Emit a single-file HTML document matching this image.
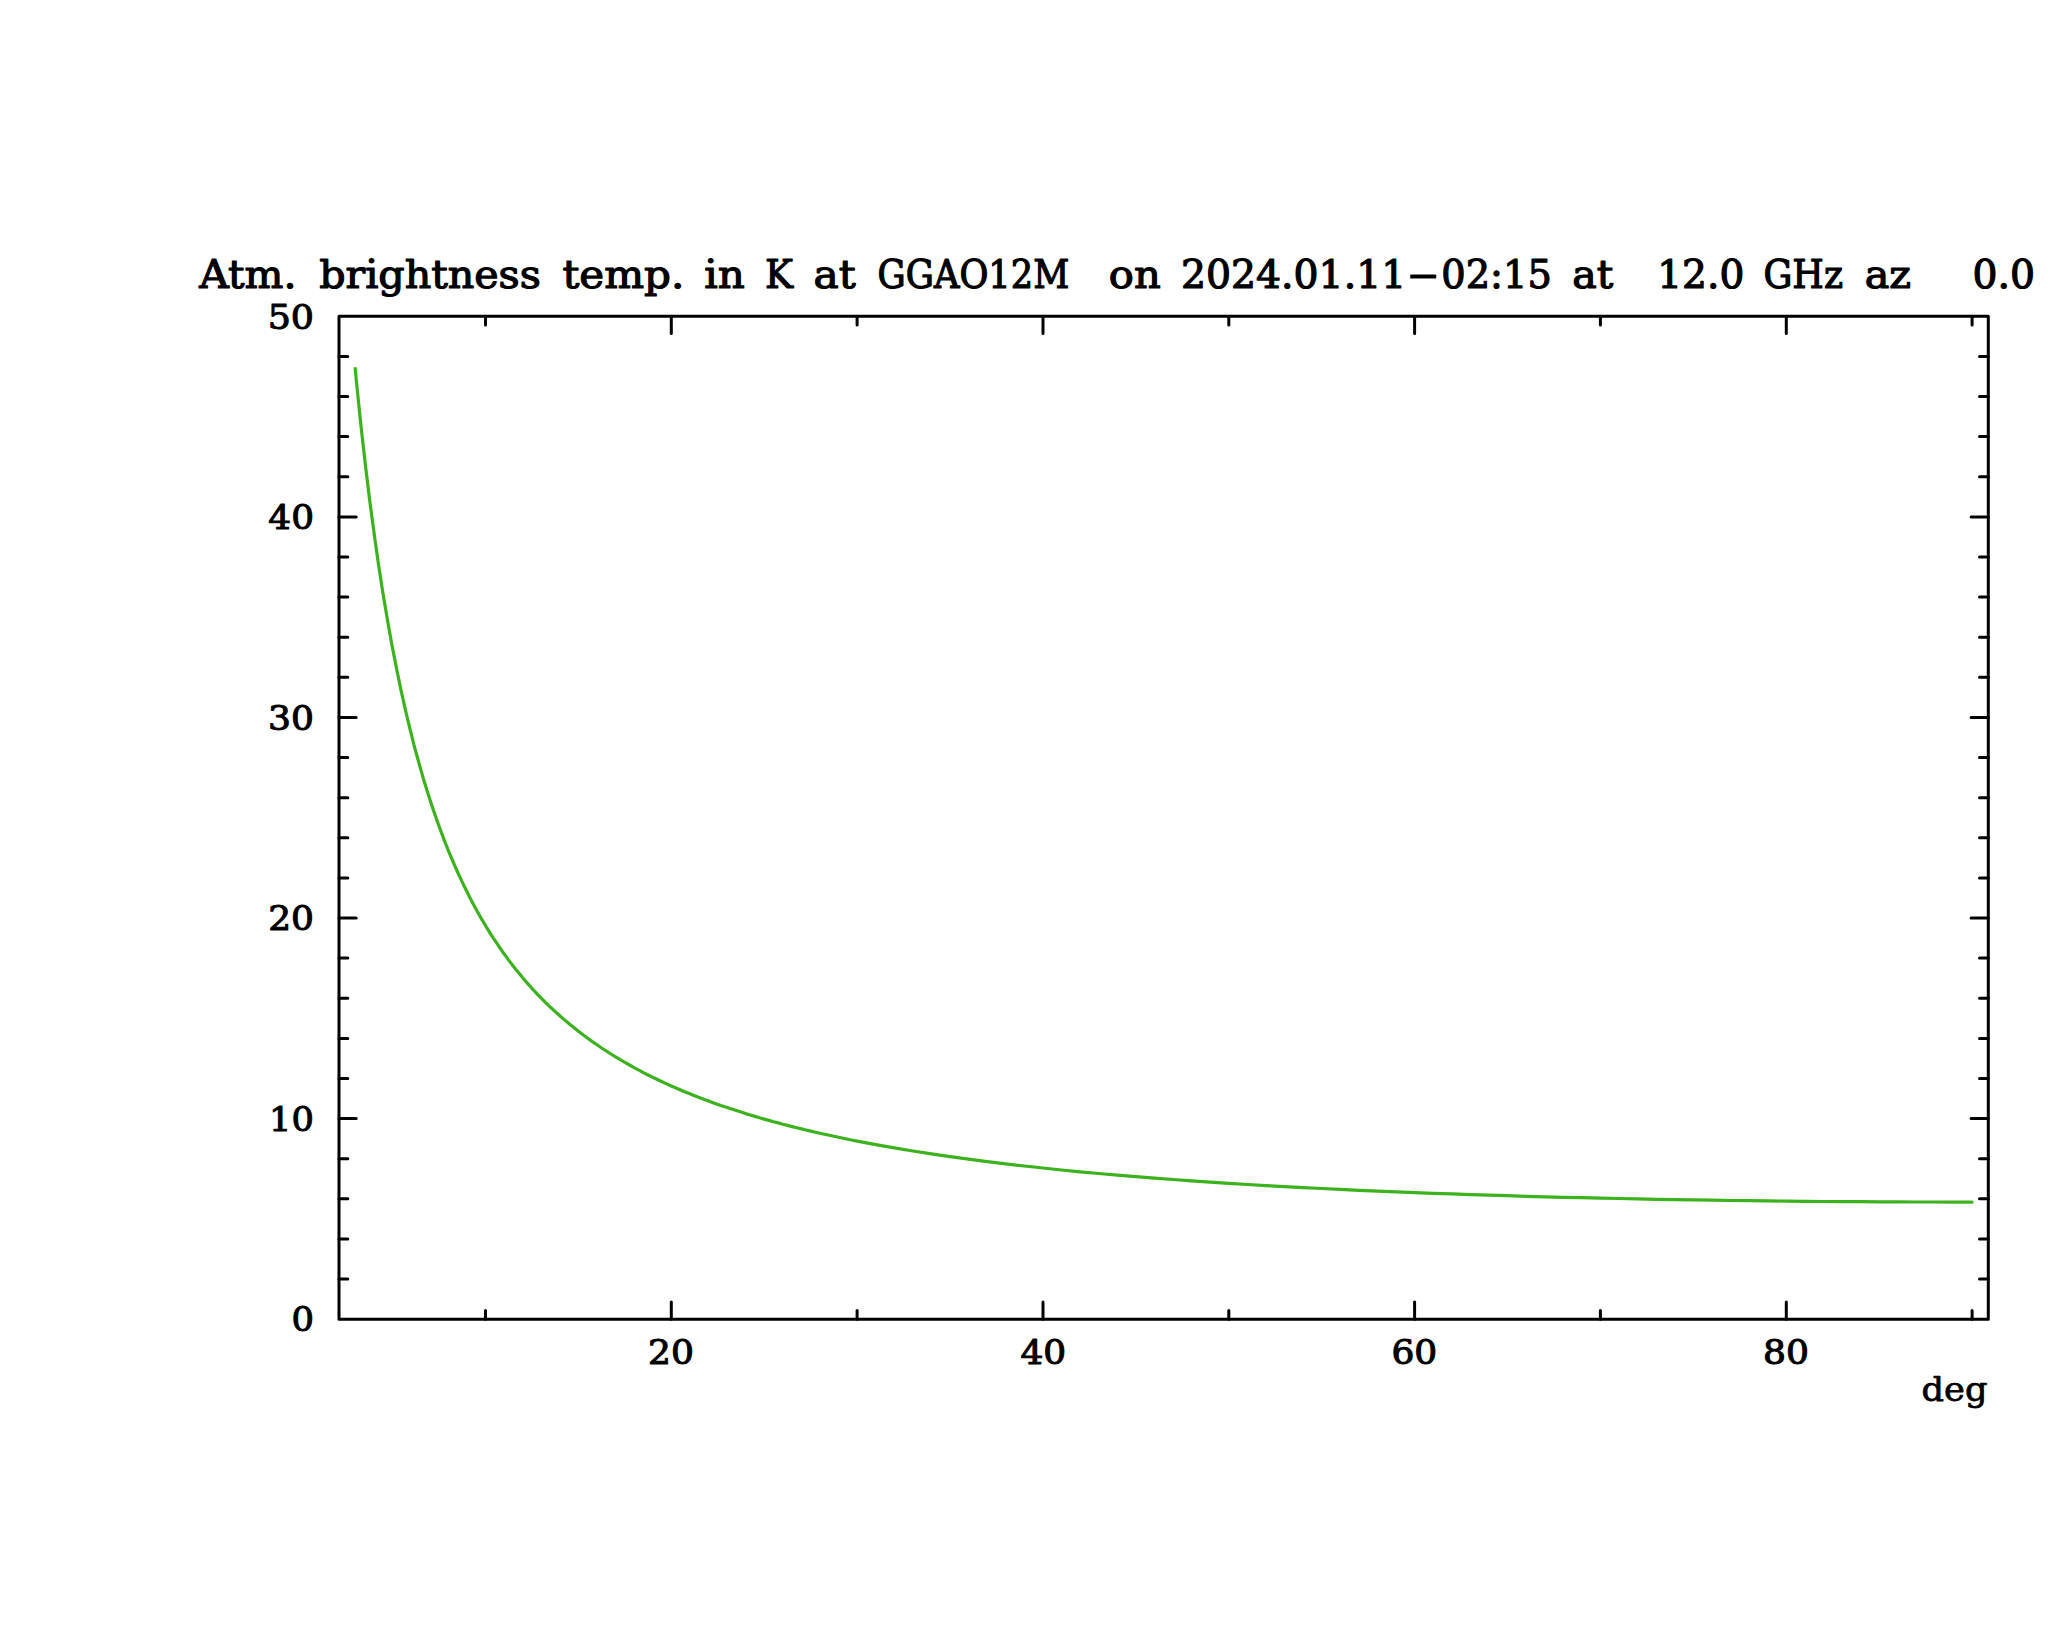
<!DOCTYPE html>
<html lang="en">
<head>
<meta charset="utf-8">
<title>Atm. brightness temp.</title>
<style>
html,body{margin:0;padding:0;background:#fff;}
body{width:2048px;height:1635px;overflow:hidden;}
svg{display:block;}
text{font-family:'DejaVu Serif','Liberation Serif',serif;fill:#000;stroke:#000;stroke-linejoin:round;stroke-linecap:round;}
.t{font-size:39.3px;stroke-width:1.2;}
.n{font-size:34.2px;stroke-width:1.05;}
.l{font-size:33.9px;stroke-width:0.75;}
.ax{stroke:#000;stroke-width:3.0;stroke-linecap:round;stroke-linejoin:round;fill:none;}
.cv{stroke:#3cb21e;stroke-width:3.2;stroke-linecap:round;stroke-linejoin:round;fill:none;}
</style>
</head>
<body>
<svg width="2048" height="1635" viewBox="0 0 2048 1635">
<rect x="0" y="0" width="2048" height="1635" fill="#ffffff"/>
<!-- title -->
<text class="t" y="287.50"><tspan x="199.29" textLength="97.11" lengthAdjust="spacingAndGlyphs">Atm.</tspan> <tspan x="319.15" textLength="221.70" lengthAdjust="spacingAndGlyphs">brightness</tspan> <tspan x="562.43" textLength="122.02" lengthAdjust="spacingAndGlyphs">temp.</tspan> <tspan x="704.32" textLength="40.50" lengthAdjust="spacingAndGlyphs">in</tspan> <tspan x="764.90" textLength="27.98" lengthAdjust="spacingAndGlyphs">K</tspan> <tspan x="813.59" textLength="42.23" lengthAdjust="spacingAndGlyphs">at</tspan> <tspan x="877.54" textLength="191.82" lengthAdjust="spacingAndGlyphs">GGAO12M</tspan> <tspan x="1108.84" textLength="51.90" lengthAdjust="spacingAndGlyphs">on</tspan> <tspan x="1180.94" textLength="225.27" lengthAdjust="spacingAndGlyphs">2024.01.11</tspan> <tspan x="1407.56" y="286.90" textLength="31.42" lengthAdjust="spacingAndGlyphs">-</tspan> <tspan y="287.50" x="1441.35" textLength="110.43" lengthAdjust="spacingAndGlyphs">02:15</tspan> <tspan x="1572.34" textLength="40.99" lengthAdjust="spacingAndGlyphs">at</tspan> <tspan x="1657.14" textLength="87.20" lengthAdjust="spacingAndGlyphs">12.0</tspan> <tspan x="1763.40" textLength="79.60" lengthAdjust="spacingAndGlyphs">GHz</tspan> <tspan x="1864.73" textLength="46.39" lengthAdjust="spacingAndGlyphs">az</tspan> <tspan x="1972.60" textLength="62.44" lengthAdjust="spacingAndGlyphs">0.0</tspan></text>
<!-- frame and ticks -->
<g class="ax">
<rect x="339.0" y="316.3" width="1649.3" height="1002.9"/>
<path d="M485.5 1319.2v-8.8M485.5 316.3v8.8M671.3 1319.2v-17.2M671.3 316.3v17.2M857.1 1319.2v-8.8M857.1 316.3v8.8M1043.0 1319.2v-17.2M1043.0 316.3v17.2M1228.8 1319.2v-8.8M1228.8 316.3v8.8M1414.6 1319.2v-17.2M1414.6 316.3v17.2M1600.4 1319.2v-8.8M1600.4 316.3v8.8M1786.3 1319.2v-17.2M1786.3 316.3v17.2M1972.1 1319.2v-8.8M1972.1 316.3v8.8M339.0 1279.0h8.8M1988.3 1279.0h-8.8M339.0 1238.9h8.8M1988.3 1238.9h-8.8M339.0 1198.8h8.8M1988.3 1198.8h-8.8M339.0 1158.7h8.8M1988.3 1158.7h-8.8M339.0 1118.6h17.2M1988.3 1118.6h-17.2M339.0 1078.5h8.8M1988.3 1078.5h-8.8M339.0 1038.4h8.8M1988.3 1038.4h-8.8M339.0 998.2h8.8M1988.3 998.2h-8.8M339.0 958.1h8.8M1988.3 958.1h-8.8M339.0 918.0h17.2M1988.3 918.0h-17.2M339.0 877.9h8.8M1988.3 877.9h-8.8M339.0 837.8h8.8M1988.3 837.8h-8.8M339.0 797.7h8.8M1988.3 797.7h-8.8M339.0 757.6h8.8M1988.3 757.6h-8.8M339.0 717.4h17.2M1988.3 717.4h-17.2M339.0 677.3h8.8M1988.3 677.3h-8.8M339.0 637.2h8.8M1988.3 637.2h-8.8M339.0 597.1h8.8M1988.3 597.1h-8.8M339.0 557.0h8.8M1988.3 557.0h-8.8M339.0 516.9h17.2M1988.3 516.9h-17.2M339.0 476.8h8.8M1988.3 476.8h-8.8M339.0 436.6h8.8M1988.3 436.6h-8.8M339.0 396.5h8.8M1988.3 396.5h-8.8M339.0 356.4h8.8M1988.3 356.4h-8.8"/>
</g>
<!-- data curve -->
<path class="cv" d="M355.2 368.5 L356.3 380.4 L358.2 398.9 L360.0 416.8 L361.9 434.1 L363.8 450.7 L365.6 466.8 L367.5 482.3 L369.3 497.3 L371.2 511.8 L373.1 525.8 L374.9 539.3 L376.8 552.4 L378.6 565.1 L380.5 577.3 L382.3 589.2 L384.2 600.7 L386.1 611.8 L387.9 622.6 L389.8 633.1 L391.6 643.2 L393.5 653.0 L395.4 662.6 L397.2 671.9 L399.1 680.9 L400.9 689.7 L402.8 698.2 L404.6 706.4 L406.5 714.5 L408.4 722.3 L410.2 729.9 L412.1 737.3 L413.9 744.6 L415.8 751.6 L417.7 758.5 L419.5 765.1 L421.4 771.6 L423.2 778.0 L425.1 784.2 L426.9 790.2 L428.8 796.1 L430.7 801.9 L432.5 807.5 L434.4 813.0 L436.2 818.3 L438.1 823.6 L440.0 828.7 L441.8 833.7 L443.7 838.6 L445.5 843.4 L447.4 848.1 L449.2 852.6 L451.1 857.1 L453.0 861.5 L454.8 865.8 L456.7 870.0 L458.5 874.1 L460.4 878.2 L462.3 882.1 L464.1 886.0 L466.0 889.8 L467.8 893.5 L469.7 897.2 L471.5 900.7 L473.4 904.3 L475.3 907.7 L477.1 911.1 L479.0 914.4 L480.8 917.7 L482.7 920.9 L484.6 924.0 L486.4 927.1 L488.3 930.1 L490.1 933.1 L492.0 936.0 L493.8 938.9 L495.7 941.7 L497.6 944.4 L499.4 947.2 L501.3 949.8 L503.1 952.5 L505.0 955.1 L506.9 957.6 L508.7 960.1 L510.6 962.6 L512.4 965.0 L514.3 967.4 L516.1 969.7 L518.0 972.0 L519.9 974.3 L521.7 976.6 L522.6 977.7 L527.3 983.1 L531.9 988.3 L536.6 993.3 L541.2 998.1 L545.9 1002.8 L550.5 1007.3 L555.2 1011.6 L559.8 1015.8 L564.5 1019.9 L569.1 1023.8 L573.8 1027.6 L578.4 1031.2 L583.0 1034.8 L587.7 1038.2 L592.3 1041.6 L597.0 1044.8 L601.6 1048.0 L606.3 1051.0 L610.9 1054.0 L615.6 1056.9 L620.2 1059.7 L624.9 1062.4 L629.5 1065.0 L634.1 1067.6 L638.8 1070.1 L643.4 1072.6 L648.1 1075.0 L652.7 1077.3 L657.4 1079.5 L662.0 1081.7 L666.7 1083.9 L671.3 1086.0 L676.0 1088.0 L680.6 1090.0 L685.2 1091.9 L689.9 1093.8 L694.5 1095.7 L699.2 1097.5 L703.8 1099.3 L708.5 1101.0 L713.1 1102.7 L717.8 1104.4 L722.4 1106.0 L727.1 1107.6 L731.7 1109.1 L736.4 1110.6 L741.0 1112.1 L745.6 1113.6 L750.3 1115.0 L754.9 1116.4 L759.6 1117.8 L764.2 1119.1 L768.9 1120.4 L773.5 1121.7 L778.2 1122.9 L782.8 1124.2 L787.5 1125.4 L792.1 1126.6 L796.7 1127.7 L801.4 1128.9 L806.0 1130.0 L810.7 1131.1 L815.3 1132.2 L820.0 1133.3 L824.6 1134.3 L829.3 1135.3 L833.9 1136.3 L838.6 1137.3 L843.2 1138.3 L847.8 1139.2 L852.5 1140.2 L857.1 1141.1 L875.7 1144.6 L894.3 1147.9 L912.9 1151.0 L931.5 1153.9 L950.1 1156.6 L968.6 1159.2 L987.2 1161.6 L1005.8 1163.9 L1024.4 1166.0 L1043.0 1168.0 L1061.6 1170.0 L1080.1 1171.8 L1098.7 1173.5 L1117.3 1175.1 L1135.9 1176.7 L1154.5 1178.1 L1173.1 1179.5 L1191.6 1180.9 L1210.2 1182.1 L1228.8 1183.3 L1247.4 1184.5 L1266.0 1185.6 L1284.5 1186.6 L1303.1 1187.6 L1321.7 1188.5 L1340.3 1189.4 L1358.9 1190.3 L1377.5 1191.1 L1396.0 1191.8 L1414.6 1192.6 L1433.2 1193.3 L1451.8 1193.9 L1470.4 1194.6 L1489.0 1195.2 L1507.5 1195.7 L1526.1 1196.3 L1544.7 1196.8 L1563.3 1197.3 L1581.9 1197.7 L1600.5 1198.1 L1619.0 1198.5 L1637.6 1198.9 L1656.2 1199.3 L1674.8 1199.6 L1693.4 1199.9 L1712.0 1200.2 L1730.5 1200.5 L1749.1 1200.7 L1767.7 1200.9 L1786.3 1201.1 L1804.9 1201.3 L1823.5 1201.5 L1842.0 1201.6 L1860.6 1201.7 L1879.2 1201.9 L1897.8 1201.9 L1916.4 1202.0 L1935.0 1202.0 L1953.5 1202.1 L1972.1 1202.1"/>
<!-- axis labels -->
<g class="n">
<text x="267.68" y="328.50" textLength="46.36" lengthAdjust="spacingAndGlyphs">50</text>
<text x="268.34" y="529.07" textLength="45.68" lengthAdjust="spacingAndGlyphs">40</text>
<text x="268.12" y="729.64" textLength="45.90" lengthAdjust="spacingAndGlyphs">30</text>
<text x="268.20" y="930.21" textLength="45.82" lengthAdjust="spacingAndGlyphs">20</text>
<text x="269.14" y="1130.78" textLength="44.85" lengthAdjust="spacingAndGlyphs">10</text>
<text x="291.51" y="1331.35" textLength="22.52" lengthAdjust="spacingAndGlyphs">0</text>
<text x="648.00" y="1364.00" textLength="45.93" lengthAdjust="spacingAndGlyphs">20</text>
<text x="1020.44" y="1364.00" textLength="45.78" lengthAdjust="spacingAndGlyphs">40</text>
<text x="1391.43" y="1364.00" textLength="45.90" lengthAdjust="spacingAndGlyphs">60</text>
<text x="1763.00" y="1364.00" textLength="45.93" lengthAdjust="spacingAndGlyphs">80</text>
</g>
<g class="l">
<text x="1921.54" y="1400.80" textLength="65.97" lengthAdjust="spacingAndGlyphs">deg</text>
</g>
</svg>
</body>
</html>
